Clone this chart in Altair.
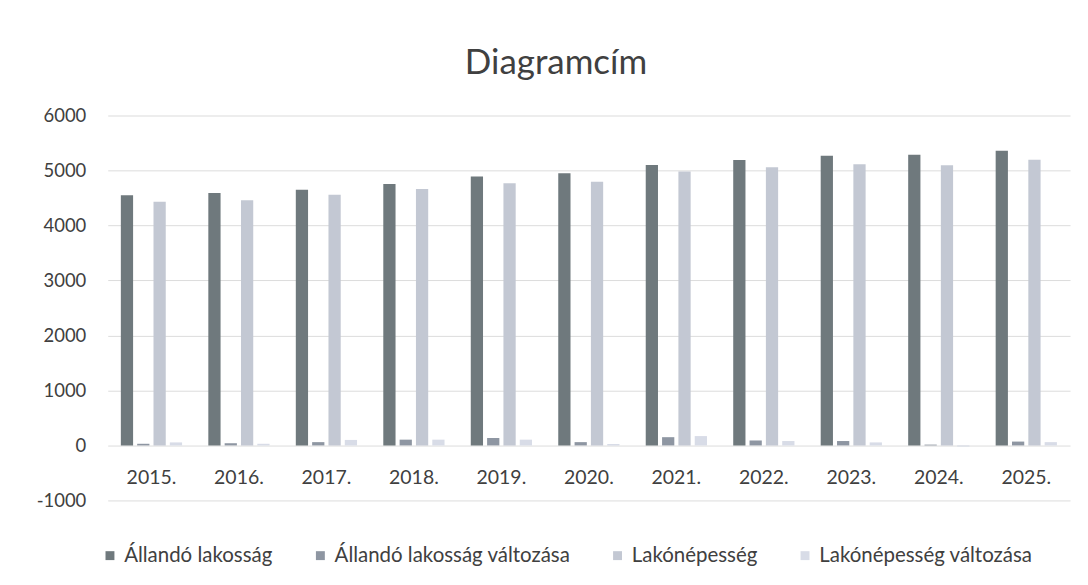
import altair as alt
import pandas as pd

years = ["2015.", "2016.", "2017.", "2018.", "2019.", "2020.", "2021.", "2022.", "2023.", "2024.", "2025."]
series = ["Állandó lakosság", "Állandó lakosság változása", "Lakónépesség", "Lakónépesség változása"]
allando = [4550, 4590, 4650, 4755, 4890, 4950, 5100, 5190, 5270, 5285, 5360]
allando_valt = [30, 40, 60, 105, 135, 60, 150, 90, 80, 15, 70]
lako = [4430, 4460, 4560, 4665, 4770, 4795, 4980, 5060, 5115, 5095, 5195]
lako_valt = [55, 30, 100, 105, 105, 25, 170, 80, 55, -20, 60]
colors = ["#6f797d", "#8e96a2", "#c3c8d3", "#d8dce7"]

rows = []
for i, y in enumerate(years):
    for s, vals in zip(series, [allando, allando_valt, lako, lako_valt]):
        rows.append({"ev": y, "sorozat": s, "ertek": vals[i]})
df = pd.DataFrame(rows)

FONT = "Lato"
TXT = "#404040"

chart = alt.Chart(df).mark_bar().encode(
    x=alt.X("ev:N", sort=years, title=None,
            scale=alt.Scale(paddingInner=0.3, paddingOuter=0.15),
            axis=alt.Axis(orient="bottom", offset=-58, domain=False, ticks=False, tickSize=0,
                          labelPadding=26, labelAngle=0, labelFontSize=19.5, labelColor=TXT,
                          labelFont=FONT, grid=False)),
    xOffset=alt.XOffset("sorozat:N", sort=series, scale=alt.Scale(paddingInner=0.25)),
    y=alt.Y("ertek:Q", title=None,
            scale=alt.Scale(domain=[-1000, 6000], nice=False),
            axis=alt.Axis(values=[-1000, 0, 1000, 2000, 3000, 4000, 5000, 6000],
                          labelExpr="'' + datum.value",
                          domain=False, ticks=False, labelPadding=22, labelFontSize=18.5,
                          labelColor=TXT, labelFont=FONT, gridColor="#dcdcdc", gridWidth=1)),
    color=alt.Color("sorozat:N", sort=series,
                    scale=alt.Scale(domain=series, range=colors),
                    legend=alt.Legend(title=None, orient="none", direction="horizontal",
                                      legendX=-8, legendY=431, symbolType="square",
                                      symbolSize=80, symbolStrokeWidth=0, labelFontSize=20.5,
                                      labelFont=FONT, labelColor=TXT, columnPadding=37,
                                      labelOffset=4, labelLimit=0, symbolOpacity=1)),
).properties(
    width=965,
    height=386,
    title=alt.TitleParams("Diagramcím", fontSize=35, font=FONT, color=TXT,
                          fontWeight="normal", anchor="middle", offset=26, dx=-33),
    autosize=alt.AutoSizeParams(type="none"),
    padding={"left": 100, "top": 107, "right": 10, "bottom": 76},
).configure_view(stroke=None)

chart.save("out.html", embed_options={"renderer": "svg", "actions": False})
